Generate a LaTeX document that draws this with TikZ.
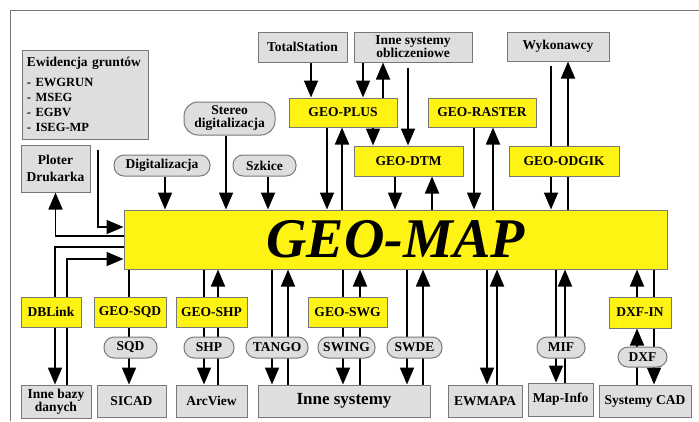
\documentclass[tikz,border=0pt]{standalone}
\usepackage{fontspec}
\setmainfont{Liberation Serif}
\usetikzlibrary{arrows.meta,backgrounds}
\definecolor{geoyellow}{RGB}{255,243,20}
\definecolor{boxgray}{RGB}{222,222,222}
\definecolor{edgegray}{RGB}{120,120,120}
\tikzset{
  every node/.style={font=\bfseries\fontsize{13.5}{15}\selectfont, inner sep=0pt, align=center},
  sysbox/.style={draw=edgegray, fill=boxgray, line width=1pt},
  geobox/.style={draw=edgegray, fill=geoyellow, line width=1pt},
  fmtpill/.style={draw=edgegray, fill=boxgray, line width=1pt, rounded corners=10pt},
  flow/.style={line width=1.8pt, -{Triangle[length=17pt,width=14pt]}},
}
\begin{document}
\begin{tikzpicture}[x=1pt,y=-1pt]
    \useasboundingbox (0,0) rectangle (699,421);
    \draw[edgegray, line width=1pt] (10,421) -- (10,10) -- (699,10);
    % the main module
    \node[geobox, minimum width=543pt, minimum height=59pt, font=\bfseries\itshape\fontsize{56}{60}\selectfont] (map) at (395.5,239.5) {GEO-MAP};
    % upper part
    \node[sysbox, minimum width=126pt, minimum height=89pt, text width=116pt, align=left] (ewid) at (85,94.5)
        {\fontsize{13.5}{15}\selectfont Ewidencja gruntów\\[5pt]\fontsize{12.5}{15}\selectfont - EWGRUN\\- MSEG\\- EGBV\\- ISEG-MP};
    \node[sysbox, minimum width=69pt, minimum height=47pt] (plot) at (55.5,168.5) {Ploter\\[2pt]Drukarka};
    \node[sysbox, minimum width=89pt, minimum height=30pt] (total) at (302.5,47) {TotalStation};
    \node[sysbox, minimum width=118pt, minimum height=30pt] (obl) at (413,47) {Inne systemy\\[-2pt]obliczeniowe};
    \node[sysbox, minimum width=102pt, minimum height=29pt] (wyk) at (558,46.5) {Wykonawcy};
    \node[geobox, minimum width=108pt, minimum height=29pt] (plus) at (343,112.5) {GEO-PLUS};
    \node[geobox, minimum width=109pt, minimum height=30pt] (dtm) at (408.5,161) {GEO-DTM};
    \node[geobox, minimum width=108pt, minimum height=29pt] (raster) at (482,112.5) {GEO-RASTER};
    \node[geobox, minimum width=110pt, minimum height=30pt] (odgik) at (564,161) {GEO-ODGIK};
    \node[fmtpill, rounded corners=14pt, minimum width=91pt, minimum height=33pt] (stereo) at (229.5,118.5) {Stereo\\[-2pt]digitalizacja};
    \node[fmtpill, minimum width=96pt, minimum height=21pt] (digp) at (162,165.5) {Digitalizacja};
    \node[fmtpill, minimum width=63pt, minimum height=21pt] (szk) at (264.5,165.5) {Szkice};
    % lower part
    \node[geobox, minimum width=60pt, minimum height=30pt] (dbl) at (51,312) {DBLink};
    \node[sysbox, minimum width=70pt, minimum height=33pt] (bazy) at (56,401.5) {Inne bazy\\[-2pt]danych};
    \node[geobox, minimum width=72pt, minimum height=30pt] (sqd) at (130,312) {GEO-SQD};
    \node[fmtpill, minimum width=53pt, minimum height=21pt] (sqdp) at (130.5,347.5) {SQD};
    \node[sysbox, minimum width=69pt, minimum height=32pt] (sicad) at (131.5,401) {SICAD};
    \node[geobox, minimum width=71pt, minimum height=30pt] (shp) at (211.5,312) {GEO-SHP};
    \node[fmtpill, minimum width=50pt, minimum height=21pt] (shpp) at (209,347.5) {SHP};
    \node[sysbox, minimum width=71pt, minimum height=32pt] (arcv) at (211.5,401) {ArcView};
    \node[fmtpill, minimum width=62pt, minimum height=21pt] (tangop) at (277,347.5) {TANGO};
    \node[geobox, minimum width=79pt, minimum height=30pt] (swg) at (347.5,312) {GEO-SWG};
    \node[fmtpill, minimum width=57pt, minimum height=21pt] (swingp) at (346.5,347.5) {SWING};
    \node[fmtpill, minimum width=55pt, minimum height=21pt] (swdep) at (414.5,347.5) {SWDE};
    \node[sysbox, minimum width=172pt, minimum height=32pt, font=\bfseries\fontsize{17}{19}\selectfont] (inne) at (344,401) {Inne systemy};
    \node[sysbox, minimum width=74pt, minimum height=32pt] (ewm) at (485,401) {EWMAPA};
    \node[fmtpill, minimum width=48pt, minimum height=21pt] (mifp) at (561,347.5) {MIF};
    \node[sysbox, minimum width=65pt, minimum height=33pt] (mapinfo) at (560.5,399.5) {Map-Info};
    \node[geobox, minimum width=62pt, minimum height=31pt] (dxfin) at (640,312.5) {DXF-IN};
    \node[fmtpill, minimum width=49pt, minimum height=20pt] (dxfp) at (642.5,357) {DXF};
    \node[sysbox, minimum width=92pt, minimum height=32pt] (cad) at (645,401) {Systemy CAD};
    % connectors
    \begin{scope}[on background layer]
    \draw[flow] (digp.south -| 165,0) -- (map.north -| 165,0);
    \draw[flow] (stereo.south -| 226,0) -- (map.north -| 226,0);
    \draw[flow] (szk.south -| 268,0) -- (map.north -| 268,0);
    \draw[flow] (total.south -| 311,0) -- (plus.north -| 311,0);
    \draw[flow] (obl.south -| 363,0) -- (plus.north -| 363,0);
    \draw[flow] (plus.north -| 383,0) -- (obl.south -| 383,0);
    \draw[flow] (plus.south -| 327,0) -- (map.north -| 327,0);
    \draw[flow] (map.north -| 342,0) -- (plus.south -| 342,0);
    \draw[flow] (plus.south -| 373,0) -- (dtm.north -| 373,0);
    \draw[flow] ([yshift=-5pt]obl.south -| 408,0) -- (dtm.north -| 408,0);
    \draw[flow] (dtm.south -| 395,0) -- (map.north -| 395,0);
    \draw[flow] (map.north -| 432,0) -- (dtm.south -| 432,0);
    \draw[flow] (raster.south -| 474,0) -- (map.north -| 474,0);
    \draw[flow] (map.north -| 493,0) -- (raster.south -| 493,0);
    \draw[flow] ([yshift=-4pt]wyk.south -| 551,0) -- (map.north -| 551,0);
    \draw[flow] (map.north -| 568,0) -- (wyk.south -| 568,0);
    \draw[flow] ([yshift=-10pt]ewid.south -| 98,0) |- (map.west |- 0,227);
    \draw[flow] (map.west |- 0,236) -| (plot.south);
    \draw[flow] (map.west |- 0,247) -| (bazy.north -| 55,0);
    \draw[flow] (bazy.north -| 67,0) |- (map.west |- 0,259);
    \draw[flow] (map.south -| 129,0) -- (sicad.north -| 129,0);
    \draw[flow] (map.south -| 204,0) -- (arcv.north -| 204,0);
    \draw[flow] (arcv.north -| 218,0) -- (map.south -| 218,0);
    \draw[flow] (map.south -| 272,0) -- (inne.north -| 272,0);
    \draw[flow] (inne.north -| 288,0) -- (map.south -| 288,0);
    \draw[flow] (map.south -| 343,0) -- (inne.north -| 343,0);
    \draw[flow] (inne.north -| 360,0) -- (map.south -| 360,0);
    \draw[flow] (map.south -| 407,0) -- (inne.north -| 407,0);
    \draw[flow] (inne.north -| 423,0) -- (map.south -| 423,0);
    \draw[flow] (map.south -| 487,0) -- (ewm.north -| 487,0);
    \draw[flow] (ewm.north -| 497,0) -- (map.south -| 497,0);
    \draw[flow] (map.south -| 556,0) -- (mapinfo.north -| 556,0);
    \draw[flow] (mapinfo.north -| 565,0) -- (map.south -| 565,0);
    \draw[flow] (cad.north -| 637,0) -- (dxfin.south -| 637,0);
    \draw[flow] (dxfin.north -| 637,0) -- (map.south -| 637,0);
    \draw[flow] (map.south -| 654,0) -- (cad.north -| 654,0);
    \end{scope}
\end{tikzpicture}
\end{document}
